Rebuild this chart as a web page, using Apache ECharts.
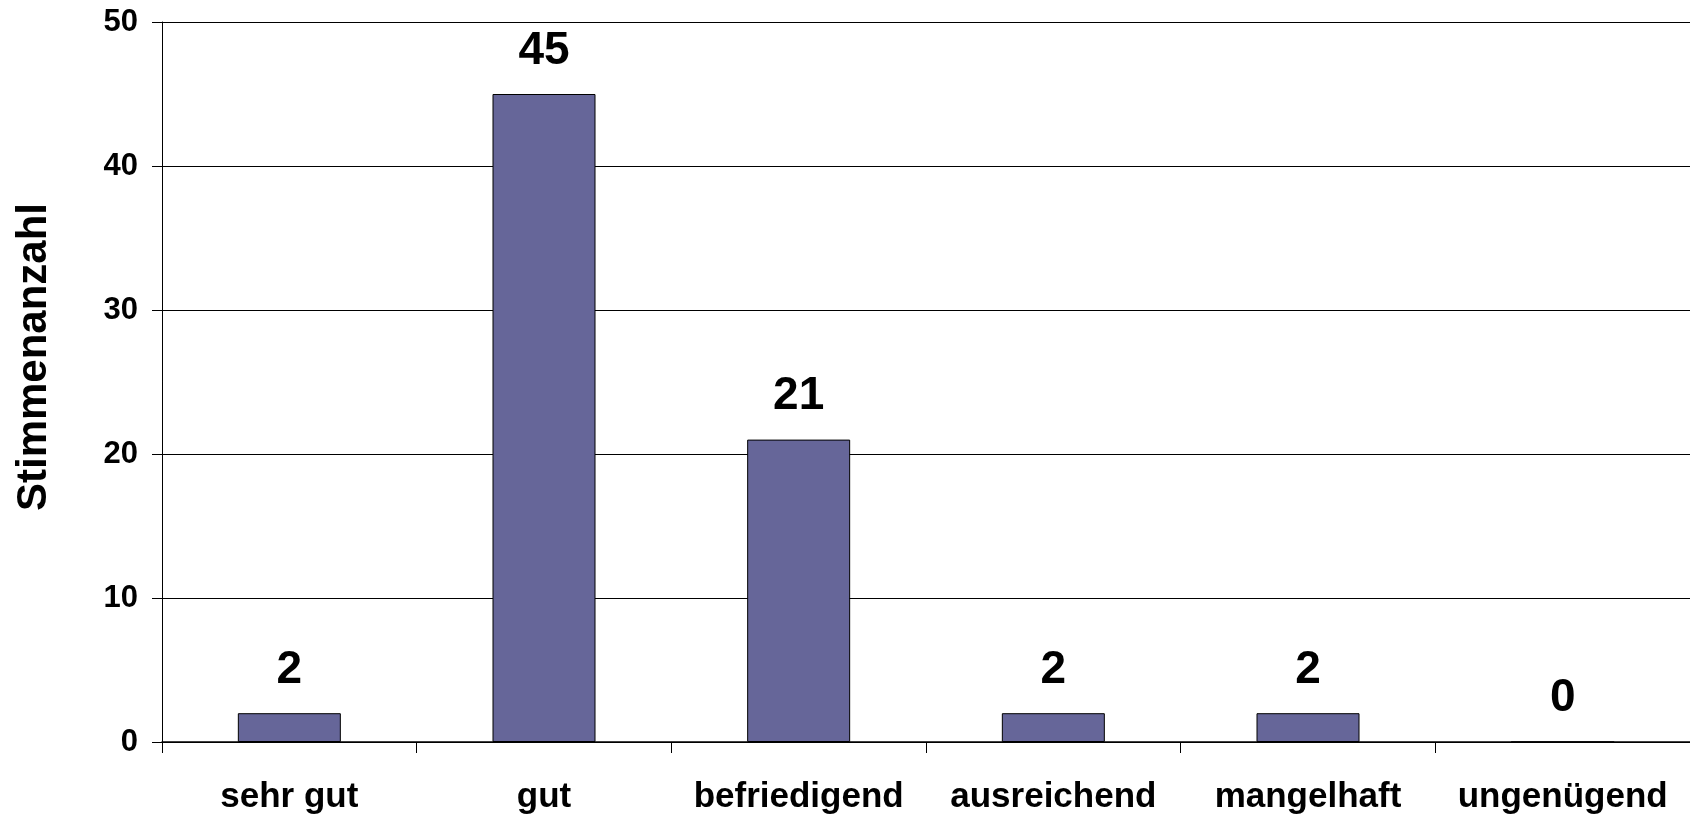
<!DOCTYPE html>
<html>
<head>
<meta charset="utf-8">
<script src="https://cdn.jsdelivr.net/npm/echarts@6/dist/echarts.min.js"></script>
<style>
html,body{margin:0;padding:0;background:#fff;}
#chart{width:1690px;height:816px;}
</style>
</head>
<body>
<div id="chart"></div>
<script>
const categories = ['sehr gut', 'gut', 'befriedigend', 'ausreichend', 'mangelhaft', 'ungenügend'];
const votes = [2, 45, 21, 2, 2, 0];
const yAxisTitle = 'Stimmenanzahl';
const yTicks = [0, 10, 20, 30, 40, 50];

const chart = echarts.init(document.getElementById('chart'), null, {renderer: 'canvas'});
const FONT = '"Liberation Sans", Arial, sans-serif';
chart.setOption({
  animation: false,
  backgroundColor: '#ffffff',
  grid: {left: 162, right: 0, top: 22, bottom: 74, containLabel: false},
  xAxis: {
    type: 'category',
    data: categories,
    boundaryGap: true,
    axisLine: {show: true, lineStyle: {color: '#000', width: 1.5}},
    axisTick: {show: true, alignWithLabel: false, length: 11, lineStyle: {color: '#000', width: 1}},
    axisLabel: {color: '#000', fontFamily: FONT, fontWeight: 'bold', fontSize: 35, margin: 38, interval: 0}
  },
  yAxis: {
    type: 'value',
    min: yTicks[0],
    max: yTicks[yTicks.length - 1],
    interval: 10,
    axisLine: {show: true, lineStyle: {color: '#000', width: 1}},
    axisTick: {show: true, length: 10, lineStyle: {color: '#000', width: 1}},
    axisLabel: {color: '#000', fontFamily: FONT, fontWeight: 'bold', fontSize: 31, margin: 24},
    splitLine: {show: true, lineStyle: {color: '#000', width: 1}}
  },
  graphic: [{
    type: 'text',
    x: 34,
    y: 357,
    rotation: Math.PI / 2,
    style: {
      text: yAxisTitle,
      font: 'bold 42px ' + FONT,
      fill: '#000',
      align: 'center',
      verticalAlign: 'middle'
    }
  }],
  series: [{
    type: 'bar',
    data: votes,
    barWidth: 103,
    itemStyle: {color: '#666699', borderColor: '#000', borderWidth: 1},
    label: {
      show: true,
      position: 'top',
      distance: 20,
      color: '#000',
      fontFamily: FONT,
      fontWeight: 'bold',
      fontSize: 46
    }
  }]
});
</script>
</body>
</html>
